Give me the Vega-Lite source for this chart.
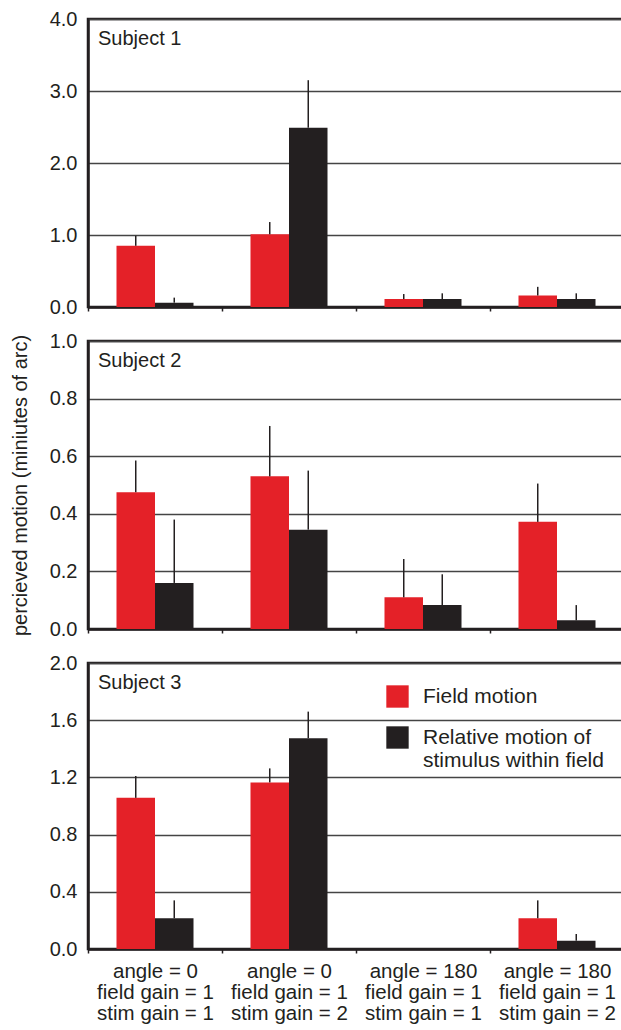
{
  "$schema": "https://vega.github.io/schema/vega-lite/v6.json",
  "autosize": {"type": "pad"},
  "padding": {"left": 8, "top": 7, "right": 0, "bottom": 0},
  "bounds": "flush",
  "spacing": 34,
  "config": {
    "font": "Liberation Sans",
    "view": {"stroke": "#231f20", "strokeWidth": 2.5},
    "axis": {
      "labelFont": "Liberation Sans",
      "labelFontSize": 20,
      "labelColor": "#231f20",
      "tickSize": 4,
      "tickColor": "#231f20",
      "tickWidth": 1.5,
      "labelPadding": 7,
      "domainColor": "#231f20",
      "domainWidth": 2.5,
      "gridColor": "#444444",
      "gridWidth": 1.5,
      "titleFont": "Liberation Sans",
      "titleFontSize": 20,
      "titleFontWeight": "normal",
      "titleColor": "#231f20"
    },
    "title": {"font": "Liberation Sans", "fontSize": 20, "fontWeight": "normal", "color": "#231f20", "anchor": "start", "frame": "group"}
  },
  "data": {
    "values": [
      {"subject": "Subject 1", "condition": "angle = 0|field gain = 1|stim gain = 1", "series": "Field motion", "value": 0.85, "upper": 0.99},
      {"subject": "Subject 1", "condition": "angle = 0|field gain = 1|stim gain = 1", "series": "Relative motion of stimulus within field", "value": 0.06, "upper": 0.13},
      {"subject": "Subject 1", "condition": "angle = 0|field gain = 1|stim gain = 2", "series": "Field motion", "value": 1.01, "upper": 1.18},
      {"subject": "Subject 1", "condition": "angle = 0|field gain = 1|stim gain = 2", "series": "Relative motion of stimulus within field", "value": 2.49, "upper": 3.15},
      {"subject": "Subject 1", "condition": "angle = 180|field gain = 1|stim gain = 1", "series": "Field motion", "value": 0.11, "upper": 0.18},
      {"subject": "Subject 1", "condition": "angle = 180|field gain = 1|stim gain = 1", "series": "Relative motion of stimulus within field", "value": 0.11, "upper": 0.19},
      {"subject": "Subject 1", "condition": "angle = 180|field gain = 1|stim gain = 2", "series": "Field motion", "value": 0.16, "upper": 0.28},
      {"subject": "Subject 1", "condition": "angle = 180|field gain = 1|stim gain = 2", "series": "Relative motion of stimulus within field", "value": 0.11, "upper": 0.19},
      {"subject": "Subject 2", "condition": "angle = 0|field gain = 1|stim gain = 1", "series": "Field motion", "value": 0.475, "upper": 0.585},
      {"subject": "Subject 2", "condition": "angle = 0|field gain = 1|stim gain = 1", "series": "Relative motion of stimulus within field", "value": 0.16, "upper": 0.38},
      {"subject": "Subject 2", "condition": "angle = 0|field gain = 1|stim gain = 2", "series": "Field motion", "value": 0.53, "upper": 0.705},
      {"subject": "Subject 2", "condition": "angle = 0|field gain = 1|stim gain = 2", "series": "Relative motion of stimulus within field", "value": 0.345, "upper": 0.55},
      {"subject": "Subject 2", "condition": "angle = 180|field gain = 1|stim gain = 1", "series": "Field motion", "value": 0.11, "upper": 0.243},
      {"subject": "Subject 2", "condition": "angle = 180|field gain = 1|stim gain = 1", "series": "Relative motion of stimulus within field", "value": 0.083, "upper": 0.19},
      {"subject": "Subject 2", "condition": "angle = 180|field gain = 1|stim gain = 2", "series": "Field motion", "value": 0.372, "upper": 0.505},
      {"subject": "Subject 2", "condition": "angle = 180|field gain = 1|stim gain = 2", "series": "Relative motion of stimulus within field", "value": 0.03, "upper": 0.083},
      {"subject": "Subject 3", "condition": "angle = 0|field gain = 1|stim gain = 1", "series": "Field motion", "value": 1.057, "upper": 1.21},
      {"subject": "Subject 3", "condition": "angle = 0|field gain = 1|stim gain = 1", "series": "Relative motion of stimulus within field", "value": 0.215, "upper": 0.34},
      {"subject": "Subject 3", "condition": "angle = 0|field gain = 1|stim gain = 2", "series": "Field motion", "value": 1.165, "upper": 1.263},
      {"subject": "Subject 3", "condition": "angle = 0|field gain = 1|stim gain = 2", "series": "Relative motion of stimulus within field", "value": 1.474, "upper": 1.66},
      {"subject": "Subject 3", "condition": "angle = 180|field gain = 1|stim gain = 2", "series": "Field motion", "value": 0.215, "upper": 0.34},
      {"subject": "Subject 3", "condition": "angle = 180|field gain = 1|stim gain = 2", "series": "Relative motion of stimulus within field", "value": 0.058, "upper": 0.105}
    ]
  },
  "vconcat": [
    {
      "width": 536,
      "height": 288,
      "title": {"text": "Subject 1", "baseline": "alphabetic", "offset": -27, "dy": 29, "dx": 10},
      "transform": [{"filter": "datum.subject == 'Subject 1'"}],
      "encoding": {
        "x": {"field": "condition", "type": "nominal", "sort": null,
              "scale": {"domain": ["angle = 0|field gain = 1|stim gain = 1", "angle = 0|field gain = 1|stim gain = 2", "angle = 180|field gain = 1|stim gain = 1", "angle = 180|field gain = 1|stim gain = 2"], "paddingInner": 0, "paddingOuter": 0},
              "axis": {"title": null, "labels": false, "tickBand": "extent", "grid": false}},
        "xOffset": {"field": "series", "type": "nominal", "scale": {"domain": ["Field motion", "Relative motion of stimulus within field"], "paddingInner": 0, "paddingOuter": 0.74}}
      },
      "layer": [
        {
          "mark": {"type": "bar"},
          "encoding": {
            "y": {"field": "value", "type": "quantitative", "scale": {"domain": [0, 4], "nice": false},
                  "axis": {"title": null, "values": [0, 0.5, 1, 1.5, 2, 2.5, 3, 3.5, 4], "format": ".1f",
                           "labelExpr": "round(datum.value*2)%2==0 ? datum.label : ''",
                           "gridOpacity": {"condition": {"test": "round(datum.value*2)%2==0", "value": 1}, "value": 0},
                           "tickOpacity": {"condition": {"test": "round(datum.value*2)%2==0", "value": 0}, "value": 1}}},
            "color": {"field": "series", "type": "nominal", "scale": {"domain": ["Field motion", "Relative motion of stimulus within field"], "range": ["#e42128", "#231f20"]}, "legend": null}
          }
        },
        {
          "mark": {"type": "rule", "color": "#231f20", "strokeWidth": 1.5},
          "encoding": {
            "y": {"field": "value", "type": "quantitative"},
            "y2": {"field": "upper"}
          }
        }
      ]
    },
    {
      "width": 536,
      "height": 288,
      "title": {"text": "Subject 2", "baseline": "alphabetic", "offset": -25, "dy": 31, "dx": 10},
      "transform": [{"filter": "datum.subject == 'Subject 2'"}],
      "encoding": {
        "x": {"field": "condition", "type": "nominal", "sort": null,
              "scale": {"domain": ["angle = 0|field gain = 1|stim gain = 1", "angle = 0|field gain = 1|stim gain = 2", "angle = 180|field gain = 1|stim gain = 1", "angle = 180|field gain = 1|stim gain = 2"], "paddingInner": 0, "paddingOuter": 0},
              "axis": {"title": null, "labels": false, "tickBand": "extent", "grid": false}},
        "xOffset": {"field": "series", "type": "nominal", "scale": {"domain": ["Field motion", "Relative motion of stimulus within field"], "paddingInner": 0, "paddingOuter": 0.74}}
      },
      "layer": [
        {
          "mark": {"type": "bar"},
          "encoding": {
            "y": {"field": "value", "type": "quantitative", "scale": {"domain": [0, 1], "nice": false},
                  "axis": {"title": "percieved motion (miniutes of arc)", "titlePadding": 19, "values": [0, 0.1, 0.2, 0.3, 0.4, 0.5, 0.6, 0.7, 0.8, 0.9, 1], "format": ".1f",
                           "labelExpr": "round(datum.value*10)%2==0 ? datum.label : ''",
                           "gridOpacity": {"condition": {"test": "round(datum.value*10)%2==0", "value": 1}, "value": 0},
                           "tickOpacity": {"condition": {"test": "round(datum.value*10)%2==0", "value": 0}, "value": 1}}},
            "color": {"field": "series", "type": "nominal", "scale": {"domain": ["Field motion", "Relative motion of stimulus within field"], "range": ["#e42128", "#231f20"]}, "legend": null}
          }
        },
        {
          "mark": {"type": "rule", "color": "#231f20", "strokeWidth": 1.5},
          "encoding": {
            "y": {"field": "value", "type": "quantitative"},
            "y2": {"field": "upper"}
          }
        }
      ]
    },
    {
      "width": 536,
      "height": 286,
      "title": {"text": "Subject 3", "baseline": "alphabetic", "offset": -25, "dy": 31, "dx": 10},
      "transform": [{"filter": "datum.subject == 'Subject 3'"}],
      "encoding": {
        "x": {"field": "condition", "type": "nominal", "sort": null,
              "scale": {"domain": ["angle = 0|field gain = 1|stim gain = 1", "angle = 0|field gain = 1|stim gain = 2", "angle = 180|field gain = 1|stim gain = 1", "angle = 180|field gain = 1|stim gain = 2"], "paddingInner": 0, "paddingOuter": 0},
              "axis": {"title": null, "tickBand": "extent", "grid": false, "labelAngle": 0, "labelExpr": "split(datum.label, '|')", "labelFontSize": 20.5, "labelLineHeight": 21, "labelBaseline": "top", "labelPadding": 8, "labelLimit": 0, "labelOverlap": false}},
        "xOffset": {"field": "series", "type": "nominal", "scale": {"domain": ["Field motion", "Relative motion of stimulus within field"], "paddingInner": 0, "paddingOuter": 0.74}}
      },
      "layer": [
        {
          "mark": {"type": "bar"},
          "encoding": {
            "y": {"field": "value", "type": "quantitative", "scale": {"domain": [0, 2], "nice": false},
                  "axis": {"title": null, "values": [0, 0.2, 0.4, 0.6, 0.8, 1, 1.2, 1.4, 1.6, 1.8, 2], "format": ".1f",
                           "labelExpr": "round(datum.value*5)%2==0 ? datum.label : ''",
                           "gridOpacity": {"condition": {"test": "round(datum.value*5)%2==0", "value": 1}, "value": 0},
                           "tickOpacity": {"condition": {"test": "round(datum.value*5)%2==0", "value": 0}, "value": 1}}},
            "color": {"field": "series", "type": "nominal", "scale": {"domain": ["Field motion", "Relative motion of stimulus within field"], "range": ["#e42128", "#231f20"]},
                      "legend": {"orient": "none", "legendX": 298, "legendY": 22, "title": null, "symbolType": "square", "symbolSize": 500, "symbolStrokeWidth": 0, "labelFontSize": 21, "labelFont": "Liberation Sans", "labelColor": "#231f20", "labelOffset": 14, "labelLimit": 0, "padding": 0, "rowPadding": 18,
                                 "labelExpr": "datum.label == 'Relative motion of stimulus within field' ? ['Relative motion of', 'stimulus within field'] : datum.label"}}
          }
        },
        {
          "mark": {"type": "rule", "color": "#231f20", "strokeWidth": 1.5},
          "encoding": {
            "y": {"field": "value", "type": "quantitative"},
            "y2": {"field": "upper"}
          }
        }
      ]
    }
  ],
  "resolve": {"scale": {"color": "independent"}}
}
